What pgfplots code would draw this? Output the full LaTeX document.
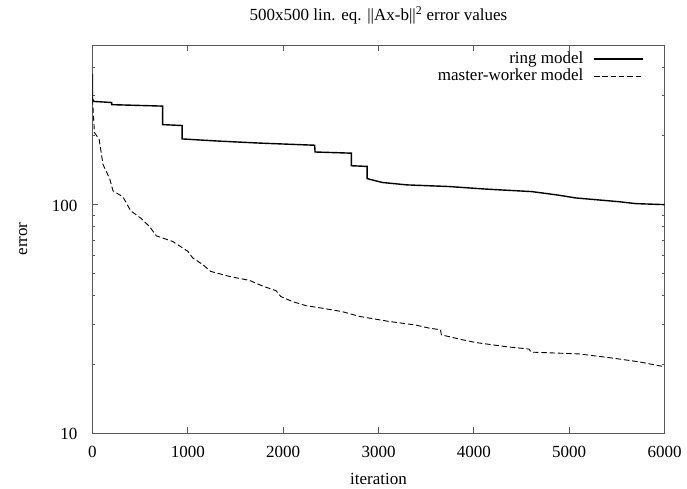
\documentclass[border=0pt]{standalone}
\usepackage{fontspec}
\setmainfont{Liberation Serif}
\usepackage{pgfplots}
\pgfplotsset{compat=1.18}
\newcommand{\lf}{\fontsize{17}{19}\selectfont}
\begin{document}
\begin{tikzpicture}
\useasboundingbox (-92.5pt,-56pt) rectangle (594.5pt,433pt);
\begin{axis}[
  at={(0pt,0pt)}, anchor=south west,
  scale only axis, width=572pt, height=388pt,
  ymode=log, xmin=0, xmax=6000, ymin=10, ymax=500,
  xtick={0,1000,2000,3000,4000,5000,6000},
  ytick={10,100}, yticklabels={10,100},
  minor ytick={20,30,40,50,60,70,80,90,200,300,400},
  tick align=inside,
  major tick length=6pt, minor tick length=3pt,
  axis line style={black!65, line width=0.9pt},
  every tick/.style={black!65, line width=0.8pt},
  /pgf/number format/assume math mode=true,
  /pgf/number format/1000 sep={},
  tick label style={font=\lf, black},
  xticklabel style={anchor=base, yshift=-25pt},
  yticklabel style={anchor=base east, xshift=-11.5pt, yshift=-6.5pt},
  title={500x500 lin. eq. ||Ax-b||\textsuperscript{2} error values},
  title style={font=\lf, at={(0.5,1)}, anchor=base, yshift=18pt},
  xlabel={iteration},
  xlabel style={font=\lf, at={(0.5,0)}, anchor=base, yshift=-52pt},
  ylabel={error},
  ylabel style={font=\lf, at={(-0.1145,0.5)}, anchor=base},
  legend style={draw=none, fill=none, at={(1,1)}, anchor=north east,
    xshift=-20.5pt, yshift=-6pt, inner sep=0pt, row sep=1.7pt, column sep=10pt,
    nodes={font=\lf, inner sep=0pt, text height=12pt, text depth=4pt}},
  legend cell align=right,
  legend plot pos=right,
  every axis plot/.append style={legend image code/.code={\draw[##1] (0pt,0pt) -- (49pt,0pt);}},
]
\addplot[black, line width=1.4pt] coordinates {
(0,375) (0,290) (15,283) (200,280) (200,274) (735,270) (735,224) (940,222)
(940,194) (1300,190) (1750,186) (2330,182) (2335,170) (2715,168) (2715,148)
(2880,147) (2880,130) (3040,125) (3300,122) (3740,120) (4120,117) (4610,114)
(4890,110) (5065,107) (5520,103) (5700,101) (6000,100)
};
\addlegendentry{ring model}
\addplot[black, line width=0.9pt, dash pattern=on 5.5pt off 2.8pt] coordinates {
(0,290) (20,207) (70,193) (110,150) (180,130) (215,115) (320,108) (400,94)
(510,87) (600,80) (670,73) (840,69) (1000,62.5) (1050,58.5) (1155,54.7)
(1240,51) (1435,48.5) (1645,46.6) (1785,44) (1925,42) (1975,39.6) (2100,37.6)
(2240,36.1) (2410,35.2) (2620,34) (2800,32.4) (3110,30.8) (3390,29.7)
(3530,28.8) (3650,28.3) (3660,26.9) (3880,25.6) (4020,24.9) (4330,23.9)
(4580,23.3) (4600,22.6) (5100,22.2) (5450,21.3) (5730,20.5) (6000,19.5)
};
\addlegendentry{master-worker model}
\end{axis}
\end{tikzpicture}
\end{document}
